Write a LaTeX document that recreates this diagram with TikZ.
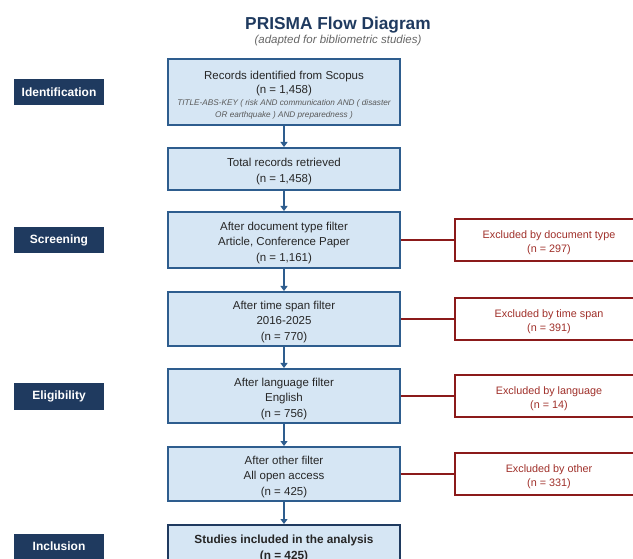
\documentclass[tikz,border=0pt]{standalone}
\usepackage{fontspec}
\setmainfont{Liberation Sans}
\usetikzlibrary{arrows.meta}
\definecolor{navy}{HTML}{1F3A5F}
\definecolor{boxfill}{HTML}{D6E6F4}
\definecolor{boxline}{HTML}{2E5D8E}
\definecolor{exred}{HTML}{8B1A1A}
\definecolor{extext}{HTML}{A0302A}
\definecolor{subgray}{HTML}{666666}
\newcommand\toppad[1]{\rule{0pt}{#1}}
\begin{document}
\begin{tikzpicture}[x=1pt,y=-1pt,
  mainbox/.style={draw=boxline, line width=2pt, fill=boxfill, minimum width=232pt, inner sep=0pt, align=center, font=\fontsize{11.5}{15.5}\selectfont, text=black!85},
  finalbox/.style={mainbox, draw=navy, line width=2.4pt, font=\bfseries\fontsize{11.8}{15.5}\selectfont},
  exbox/.style={draw=exred, line width=2pt, fill=white, minimum width=188pt, minimum height=42pt, inner sep=0pt, align=center, text=extext, font=\fontsize{10.8}{14}\selectfont},
  stage/.style={fill=navy, minimum width=90pt, minimum height=26pt, inner sep=0pt, text=white, font=\bfseries\fontsize{12}{13}\selectfont},
  flow/.style={draw=boxline, line width=2pt, -{Triangle[length=5pt,width=7pt]}},
  exline/.style={draw=exred, line width=2pt}]
\useasboundingbox (0,0) rectangle (633,559);
\clip (0,0) rectangle (633,559);
\node[font=\bfseries\fontsize{17.3}{19}\selectfont, text=navy] (title) at (338,25) {PRISMA Flow Diagram};
\node[font=\itshape\fontsize{11.5}{12}\selectfont, text=subgray] (sub) at (338,40.5) {(adapted for bibliometric studies)};

\node[mainbox, minimum height=66pt] (b1) at (284,92) {\toppad{14.5pt}Records identified from Scopus\\[-1pt](n = 1,458)\\[-4pt]{\itshape\fontsize{8.2}{12}\selectfont\color{black!65}TITLE-ABS-KEY ( risk AND communication AND ( disaster}\\[-3pt]{\itshape\fontsize{8.2}{12}\selectfont\color{black!65}OR earthquake ) AND preparedness )}};
\node[mainbox, minimum height=42pt] (b2) at (284,169) {\toppad{13.5pt}Total records retrieved\\(n = 1,458)};
\node[mainbox, minimum height=56pt] (b3) at (284,240) {\toppad{13.5pt}After document type filter\\Article, Conference Paper\\(n = 1,161)};
\node[mainbox, minimum height=54pt] (b4) at (284,319) {\toppad{13.5pt}After time span filter\\2016-2025\\(n = 770)};
\node[mainbox, minimum height=54pt] (b5) at (284,396) {\toppad{13.5pt}After language filter\\English\\(n = 756)};
\node[mainbox, minimum height=54pt] (b6) at (284,474) {\toppad{13.5pt}After other filter\\All open access\\(n = 425)};
\node[finalbox, minimum height=54pt, anchor=north] (b7) at (284,524) {\toppad{18.5pt}Studies included in the analysis\\(n = 425)\\ \strut};

\node[exbox] (e1) at (549,240) {\toppad{14pt}Excluded by document type\\(n = 297)};
\node[exbox] (e2) at (549,319) {\toppad{14pt}Excluded by time span\\(n = 391)};
\node[exbox] (e3) at (549,396) {\toppad{14pt}Excluded by language\\(n = 14)};
\node[exbox] (e4) at (549,474) {\toppad{14pt}Excluded by other\\(n = 331)};

\node[stage] (s1) at (59,92.5) {Identification};
\node[stage] (s2) at (59,240.5) {Screening};
\node[stage] (s3) at (59,396.5) {Eligibility};
\node[stage] (s4) at (59,546.5) {Inclusion};

\draw[flow] (b1) -- (b2);
\draw[flow] (b2) -- (b3);
\draw[flow] (b3) -- (b4);
\draw[flow] (b4) -- (b5);
\draw[flow] (b5) -- (b6);
\draw[flow] (b6) -- (b7);

\draw[exline] (b3.east) -- (e1.west);
\draw[exline] (b4.east) -- (e2.west);
\draw[exline] (b5.east) -- (e3.west);
\draw[exline] (b6.east) -- (e4.west);
\end{tikzpicture}
\end{document}
